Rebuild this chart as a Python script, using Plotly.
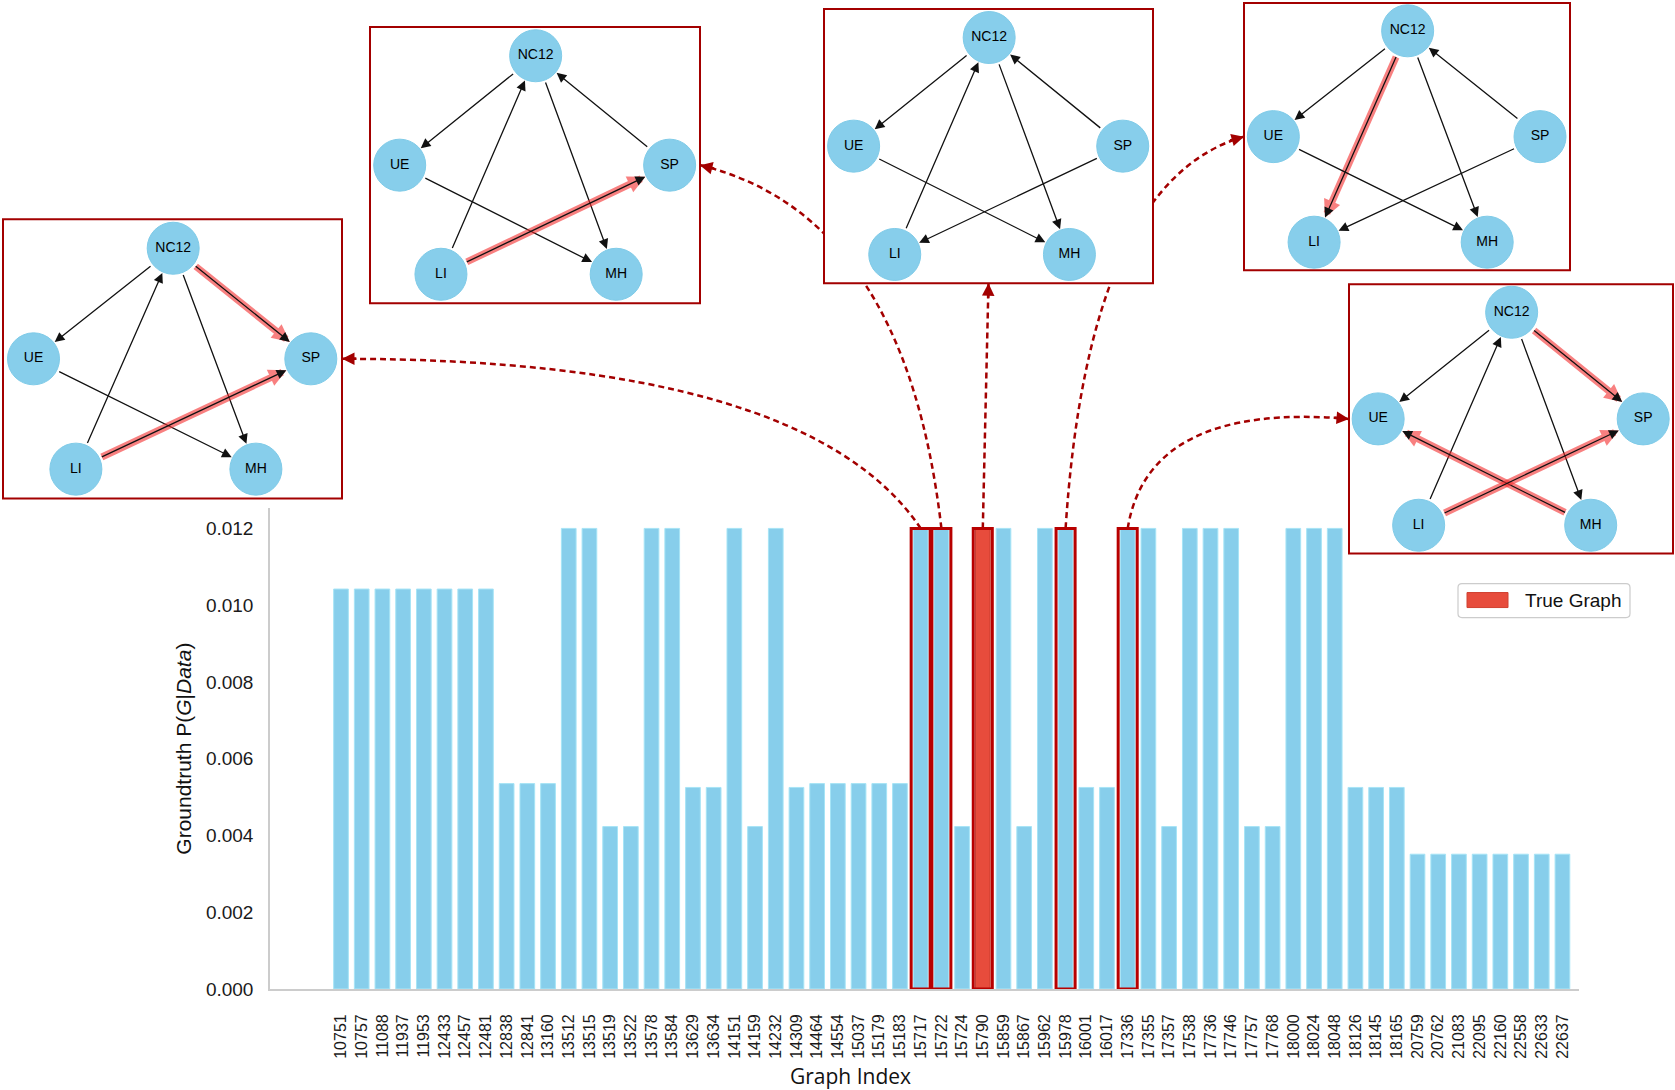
import math
import plotly.graph_objects as go

W, H = 1675, 1090          # reference canvas (layout coordinates)
FIG_H = 1102               # rendered figure height (compensates vertical squeeze)

# ---------------- data ----------------
graph_index = ["10751", "10757", "11088", "11937", "11953", "12433", "12457", "12481",
               "12838", "12841", "13160", "13512", "13515", "13519", "13522", "13578",
               "13584", "13629", "13634", "14151", "14159", "14232", "14309", "14464",
               "14554", "15037", "15179", "15183", "15717", "15722", "15724", "15790",
               "15859", "15867", "15962", "15978", "16001", "16017", "17336", "17355",
               "17357", "17538", "17736", "17746", "17757", "17768", "18000", "18024",
               "18048", "18126", "18145", "18165", "20759", "20762", "21083", "22095",
               "22160", "22558", "22633", "22637"]

probability = [0.01042, 0.01042, 0.01042, 0.01042, 0.01042, 0.01042, 0.01042, 0.01042,
               0.00535, 0.00535, 0.00535, 0.0120, 0.0120, 0.00423, 0.00423, 0.0120,
               0.0120, 0.00525, 0.00525, 0.0120, 0.00423, 0.0120, 0.00525, 0.00535,
               0.00535, 0.00535, 0.00535, 0.00535, 0.0120, 0.0120, 0.00423, 0.0120,
               0.0120, 0.00423, 0.0120, 0.0120, 0.00525, 0.00525, 0.0120, 0.0120,
               0.00423, 0.0120, 0.0120, 0.0120, 0.00423, 0.00423, 0.0120, 0.0120,
               0.0120, 0.00525, 0.00525, 0.00525, 0.00351, 0.00351, 0.00351, 0.00351,
               0.00351, 0.00351, 0.00351, 0.00351]

true_graph = "15790"
y_ticks = [0.0, 0.002, 0.004, 0.006, 0.008, 0.010, 0.012]

node_names = ["NC12", "UE", "SP", "LI", "MH"]
# graph layout positions (normalised inside each inset)
node_layout = {"NC12": (0.502, 0.104), "UE": (0.09, 0.5), "SP": (0.908, 0.5),
               "LI": (0.215, 0.895), "MH": (0.746, 0.895)}

graph_edges = {
    "15790": [("NC12", "UE"), ("LI", "NC12"), ("NC12", "MH"), ("SP", "NC12"), ("UE", "MH"), ("SP", "LI")],
    "15717": [("NC12", "UE"), ("LI", "NC12"), ("NC12", "MH"), ("NC12", "SP"), ("UE", "MH"), ("LI", "SP")],
    "15722": [("NC12", "UE"), ("LI", "NC12"), ("NC12", "MH"), ("SP", "NC12"), ("UE", "MH"), ("LI", "SP")],
    "15978": [("NC12", "UE"), ("NC12", "LI"), ("NC12", "MH"), ("SP", "NC12"), ("UE", "MH"), ("SP", "LI")],
    "17336": [("NC12", "UE"), ("LI", "NC12"), ("NC12", "MH"), ("NC12", "SP"), ("MH", "UE"), ("LI", "SP")],
}

# ---------------- layout / style ----------------
X_DOM_PX = (270, 1579)
Y_DOM_PX = (508, 988)
X_RANGE = (-3.43, 59.8)
Y_RANGE = (0.0, 0.01252)

INSET_BOX = {"15717": (3, 219, 342, 498), "15722": (370, 27, 700, 303),
             "15790": (824, 9, 1153, 283), "15978": (1244, 3, 1570, 270),
             "17336": (1349, 284, 1673, 553)}
# side of inset the connector attaches to, and bend parameters of the curve
CONNECTOR = {"15717": ("right", 0.197, 0.0), "15722": ("right", 0.149, 0.138),
             "15790": ("bottom", 0.5, 0.5), "15978": ("left", 0.128, 0.113),
             "17336": ("left", 0.093, -0.155)}
LEGEND_BOX = (1458, 583, 1630, 617)

BLUE = "#87CEEB"
RED = "#E74C3C"
DARKRED = "#a30000"
FONT = "Liberation Sans, Arial, sans-serif"
NODE_R = 26


def main_px(i, v):
    x = X_DOM_PX[0] + (i - X_RANGE[0]) / (X_RANGE[1] - X_RANGE[0]) * (X_DOM_PX[1] - X_DOM_PX[0])
    y = Y_DOM_PX[1] - (v - Y_RANGE[0]) / (Y_RANGE[1] - Y_RANGE[0]) * (Y_DOM_PX[1] - Y_DOM_PX[0])
    return x, y


def rounded_rect(x0, y0, x1, y1, r):
    return (f"M {x0 + r},{y0} L {x1 - r},{y0} Q {x1},{y0} {x1},{y0 + r} "
            f"L {x1},{y1 - r} Q {x1},{y1} {x1 - r},{y1} L {x0 + r},{y1} "
            f"Q {x0},{y1} {x0},{y1 - r} L {x0},{y0 + r} Q {x0},{y0} {x0 + r},{y0} Z")


fig = go.Figure()

idx = list(range(len(graph_index)))
blue_x = [i for i in idx if graph_index[i] != true_graph]
red_x = [i for i in idx if graph_index[i] == true_graph]

fig.add_trace(go.Bar(x=blue_x, y=[probability[i] for i in blue_x],
                     customdata=[graph_index[i] for i in blue_x],
                     marker=dict(color=BLUE, line=dict(color="#a6e4f6", width=1)),
                     width=0.71, name="Graphs", showlegend=False,
                     xaxis="x", yaxis="y"))
fig.add_trace(go.Bar(x=red_x, y=[probability[i] for i in red_x],
                     marker=dict(color=RED, line=dict(color="#c0392b", width=1)),
                     width=0.71, name="True Graph", showlegend=False,
                     xaxis="x", yaxis="y"))

shapes = []
annotations = []

# highlight rectangles around selected bars
for g in INSET_BOX:
    i = graph_index.index(g)
    shapes.append(dict(type="rect", xref="x", yref="y", x0=i - 0.46, x1=i + 0.46,
                       y0=0, y1=probability[i], line=dict(color="#b80000", width=3),
                       fillcolor="rgba(0,0,0,0)", layer="above"))

# connectors (drawn before inset boxes so boxes hide them)
for g, (side, a, b) in CONNECTOR.items():
    i = graph_index.index(g)
    x0, y0 = main_px(i, probability[i])
    bx0, by0, bx1, by1 = INSET_BOX[g]
    if side == "right":
        x2, y2 = bx1, (by0 + by1) / 2
    elif side == "left":
        x2, y2 = bx0, (by0 + by1) / 2
    else:
        x2, y2 = (bx0 + bx1) / 2, by1
    cx = x0 + a * (x2 - x0)
    cy = y2 + b * (y0 - y2)
    shapes.append(dict(type="path", xref="x2", yref="y2",
                       path=f"M {x0:.1f},{y0:.1f} Q {cx:.1f},{cy:.1f} {x2:.1f},{y2:.1f}",
                       line=dict(color=DARKRED, width=2.5, dash="6px,4px"), layer="below"))
    dx, dy = x2 - cx, y2 - cy
    L = math.hypot(dx, dy)
    annotations.append(dict(x=x2, y=y2, ax=x2 - 16 * dx / L, ay=y2 - 16 * dy / L,
                            xref="x2", yref="y2", axref="x2", ayref="y2", text="",
                            showarrow=True, arrowhead=2, arrowsize=1.0, arrowwidth=2.5,
                            arrowcolor=DARKRED, standoff=0))

# inset boxes
for g, (bx0, by0, bx1, by1) in INSET_BOX.items():
    shapes.append(dict(type="rect", xref="x2", yref="y2", x0=bx0, x1=bx1, y0=by0, y1=by1,
                       fillcolor="white", line=dict(color=DARKRED, width=2), layer="below"))

true_edges = set(graph_edges[true_graph])

for g, (bx0, by0, bx1, by1) in INSET_BOX.items():
    pos = {n: (bx0 + node_layout[n][0] * (bx1 - bx0), by0 + node_layout[n][1] * (by1 - by0))
           for n in node_names}
    for (s, t) in graph_edges[g]:
        (sx, sy), (tx, ty) = pos[s], pos[t]
        common = dict(x=tx, y=ty, ax=sx, ay=sy, xref="x2", yref="y2", axref="x2", ayref="y2",
                      text="", showarrow=True, standoff=NODE_R + 1, startstandoff=NODE_R + 1)
        if (s, t) not in true_edges:
            annotations.append(dict(common, arrowhead=2, arrowsize=0.5, arrowwidth=7,
                                    arrowcolor="rgba(245,45,45,0.6)"))
        annotations.append(dict(common, arrowhead=2, arrowsize=1.5, arrowwidth=1.3,
                                arrowcolor="#111111"))
    fig.add_trace(go.Scatter(x=[pos[n][0] for n in node_names], y=[pos[n][1] for n in node_names],
                             mode="markers+text", text=node_names, textposition="middle center",
                             textfont=dict(family=FONT, size=14, color="black"),
                             marker=dict(size=2 * NODE_R, color=BLUE,
                                         line=dict(color="#7fcbe8", width=1)),
                             cliponaxis=False, showlegend=False, hoverinfo="text",
                             xaxis="x2", yaxis="y2"))

# manual legend
lx0, ly0, lx1, ly1 = LEGEND_BOX
shapes.append(dict(type="path", xref="x2", yref="y2", path=rounded_rect(lx0, ly0, lx1, ly1, 4),
                   fillcolor="white", line=dict(color="#cccccc", width=1.2), layer="above"))
shapes.append(dict(type="rect", xref="x2", yref="y2", x0=lx0 + 9, x1=lx0 + 50,
                   y0=ly0 + 9, y1=ly1 - 10,
                   fillcolor=RED, line=dict(color="#d04030", width=1), layer="above"))
annotations.append(dict(x=lx0 + 65, y=(ly0 + ly1) / 2, xref="x2", yref="y2", text="True Graph",
                        showarrow=False, xanchor="left", yanchor="middle",
                        font=dict(family=FONT, size=19, color="#111111")))

# axis titles
annotations.append(dict(x=184, y=(Y_DOM_PX[0] + Y_DOM_PX[1]) / 2, xref="x2", yref="y2",
                        text="Groundtruth P(<i>G</i>|<i>Data</i>)", textangle=-90,
                        showarrow=False, xanchor="center", yanchor="middle",
                        font=dict(family=FONT, size=21, color="#111111")))
annotations.append(dict(x=850, y=1075, xref="x2", yref="y2", text="Graph Index",
                        showarrow=False, xanchor="center", yanchor="middle",
                        font=dict(family="Open Sans, Noto Sans, sans-serif", size=21,
                                  color="#111111")))

fig.update_layout(
    width=W, height=FIG_H,
    margin=dict(l=0, r=0, t=0, b=0, pad=0),
    paper_bgcolor="white", plot_bgcolor="rgba(0,0,0,0)",
    barmode="overlay", showlegend=False,
    xaxis=dict(domain=[X_DOM_PX[0] / W, X_DOM_PX[1] / W], range=list(X_RANGE),
               anchor="y", tickmode="array", tickvals=idx, ticktext=graph_index,
               tickangle=-90, ticks="", showgrid=False, zeroline=False,
               showline=True, linecolor="#cccccc", linewidth=2,
               ticklabelstandoff=17,
               tickfont=dict(family=FONT, size=16, color="#1a1a1a")),
    yaxis=dict(domain=[1 - Y_DOM_PX[1] / H, 1 - Y_DOM_PX[0] / H], range=list(Y_RANGE),
               anchor="x", tickmode="array", tickvals=y_ticks, tickformat=".3f",
               ticks="", showgrid=False, zeroline=False,
               showline=True, linecolor="#cccccc", linewidth=1.5,
               ticklabelstandoff=11,
               tickfont=dict(family=FONT, size=19, color="#1a1a1a")),
    xaxis2=dict(domain=[0, 1], range=[0, W], anchor="y2", visible=False, fixedrange=True),
    yaxis2=dict(domain=[0, 1], range=[H, 0], anchor="x2", visible=False, fixedrange=True),
    shapes=shapes, annotations=annotations,
)

post = ("var gd=document.getElementById('{plot_id}');"
        "document.documentElement.style.margin='0';document.body.style.margin='0';"
        "document.documentElement.style.overflow='hidden';document.body.style.overflow='hidden';"
        "gd.style.position='absolute';gd.style.left='0px';gd.style.top='0px';")

fig.write_html("out.html", config={"displayModeBar": False}, post_script=post)
